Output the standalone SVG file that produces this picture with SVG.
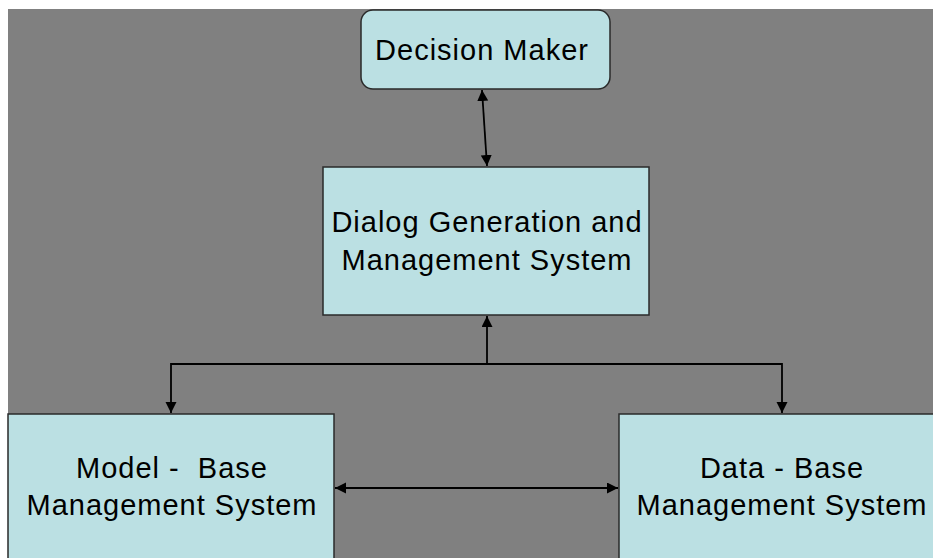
<svg xmlns="http://www.w3.org/2000/svg" width="933" height="558" viewBox="0 0 933 558">
  <style>
    .box { fill: #bbe0e3; stroke: #2a2a2a; stroke-width: 1.5; }
    .lbl { font-family: "Liberation Sans", Arial, sans-serif; font-size: 29px; letter-spacing: 1px; fill: #000; text-anchor: middle; }
    .wire { fill: none; stroke: #000; stroke-width: 1.8; }
  </style>
  <defs>
    <marker id="arrow" markerUnits="userSpaceOnUse" markerWidth="12" markerHeight="12" refX="11" refY="5.5" orient="auto-start-reverse">
      <path d="M0,0 L11,5.5 L0,11 z" fill="#000"/>
    </marker>
  </defs>

  <rect x="0" y="0" width="933" height="558" fill="#ffffff"/>
  <rect x="8" y="9" width="925" height="549" fill="#808080"/>

  <g id="connectors">
    <line class="wire" x1="482" y1="90" x2="487" y2="166" stroke-width="2.4" marker-start="url(#arrow)" marker-end="url(#arrow)"/>
    <line class="wire" x1="487" y1="364" x2="487" y2="316" marker-end="url(#arrow)"/>
    <polyline class="wire" points="487,364 171,364 171,413" marker-end="url(#arrow)"/>
    <polyline class="wire" points="487,364 782,364 782,413" marker-end="url(#arrow)"/>
    <line class="wire" x1="335" y1="488" x2="618" y2="488" marker-start="url(#arrow)" marker-end="url(#arrow)"/>
  </g>

  <g id="decision-maker">
    <rect class="box" x="361" y="10" width="249" height="79" rx="12" ry="12"/>
    <text class="lbl" x="482" y="60">Decision Maker</text>
  </g>

  <g id="dialog-system">
    <rect class="box" x="323" y="167" width="326" height="148"/>
    <text class="lbl" x="487" y="232">Dialog Generation and</text>
    <text class="lbl" x="487" y="270">Management System</text>
  </g>

  <g id="model-base">
    <rect class="box" x="8" y="414" width="326" height="160"/>
    <text class="lbl" x="172" y="478" xml:space="preserve">Model -  Base</text>
    <text class="lbl" x="172" y="515">Management System</text>
  </g>

  <g id="data-base">
    <rect class="box" x="619" y="414" width="326" height="160"/>
    <text class="lbl" x="782" y="478">Data - Base</text>
    <text class="lbl" x="782" y="515">Management System</text>
  </g>
</svg>
